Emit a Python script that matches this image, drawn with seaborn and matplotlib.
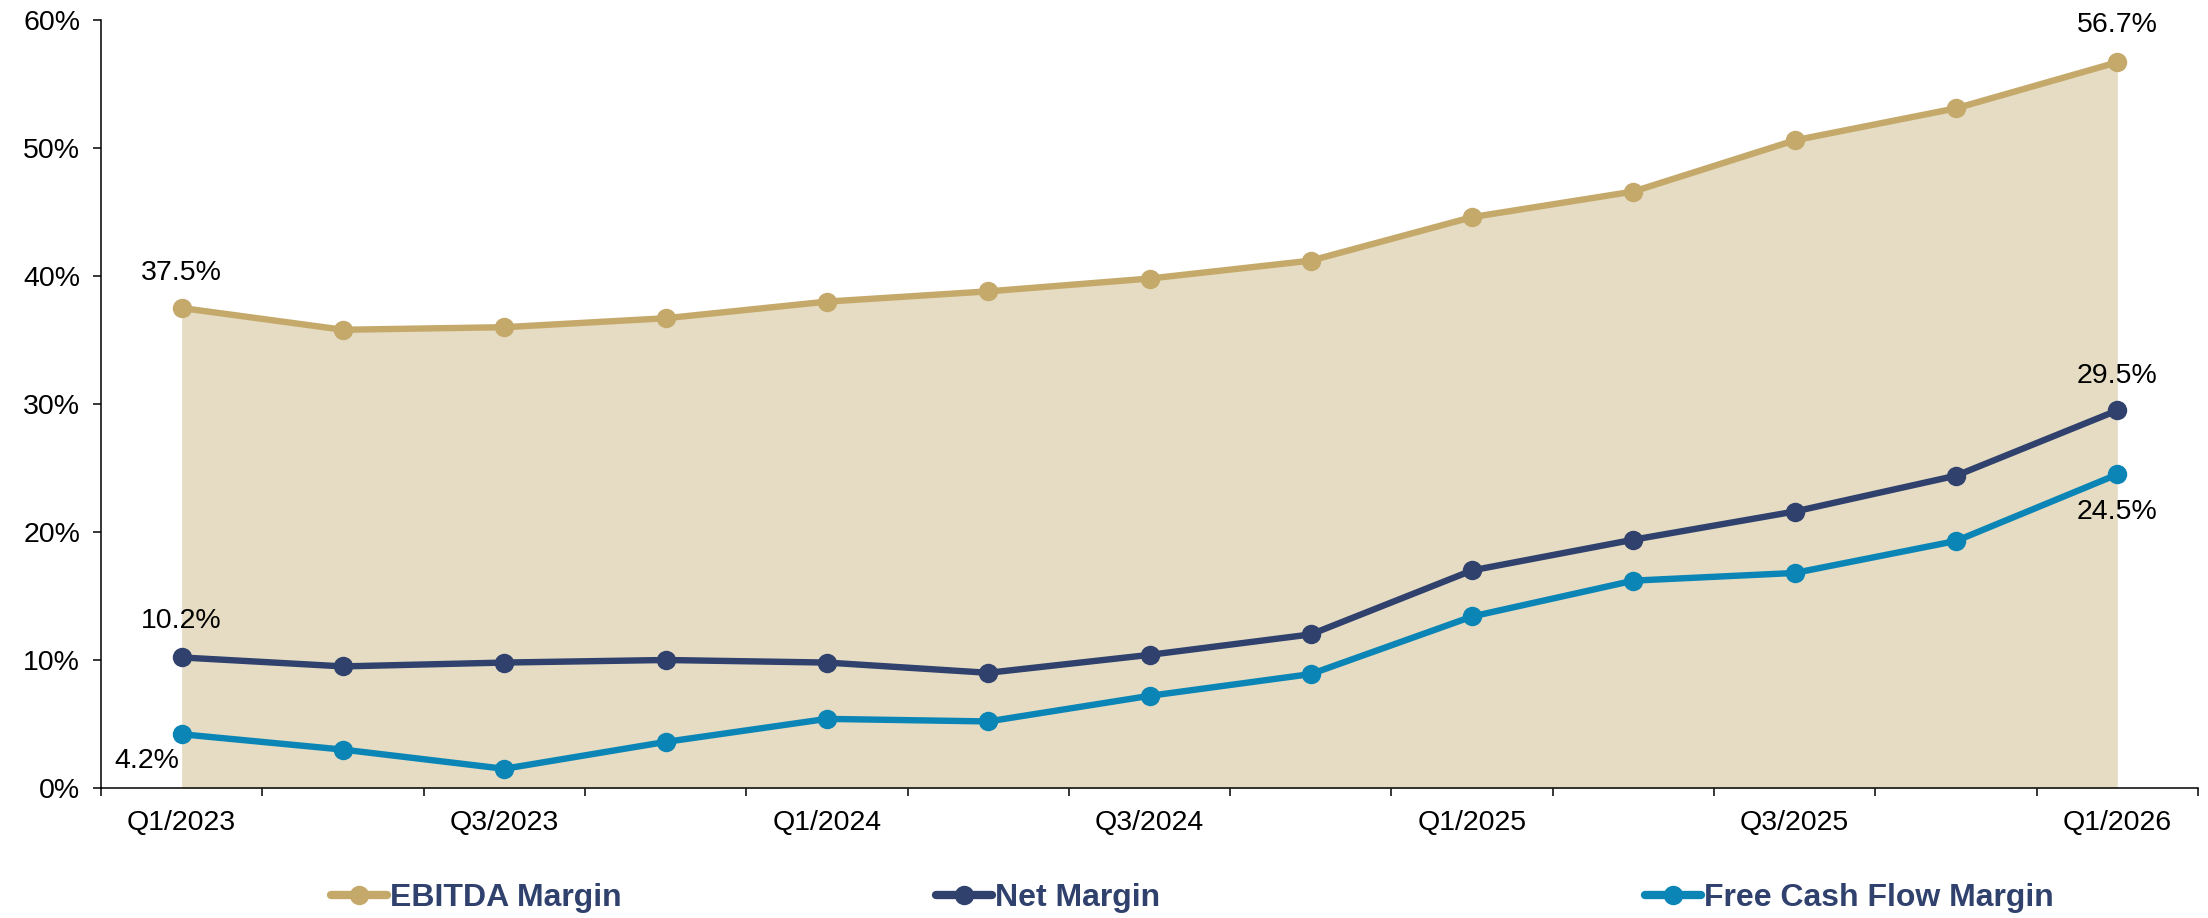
import matplotlib
matplotlib.use("Agg")
import matplotlib.pyplot as plt
from matplotlib.lines import Line2D
from matplotlib.ticker import FixedLocator, FuncFormatter
import numpy as np
import pandas as pd
import seaborn as sns

# Quarterly margins (%)
quarters = ["Q1/2023", "Q2/2023", "Q3/2023", "Q4/2023",
            "Q1/2024", "Q2/2024", "Q3/2024", "Q4/2024",
            "Q1/2025", "Q2/2025", "Q3/2025", "Q4/2025", "Q1/2026"]
ebitda_margin = [37.5, 35.8, 36.0, 36.7, 38.0, 38.8, 39.8, 41.2, 44.6, 46.6, 50.6, 53.1, 56.7]
net_margin = [10.2, 9.5, 9.8, 10.0, 9.8, 9.0, 10.4, 12.0, 17.0, 19.4, 21.6, 24.4, 29.5]
fcf_margin = [4.2, 3.0, 1.5, 3.6, 5.4, 5.2, 7.2, 8.9, 13.4, 16.2, 16.8, 19.3, 24.5]
series_names = ["EBITDA Margin", "Net Margin", "Free Cash Flow Margin"]
y_ticks = [0, 10, 20, 30, 40, 50, 60]

GOLD = "#C4A96B"
GOLD_FILL = "#E5DCC3"
NAVY = "#2F416C"
TEAL = "#0A85B6"
palette = {series_names[0]: GOLD, series_names[1]: NAVY, series_names[2]: TEAL}
TEXT_SIZE = 20.5

sns.set_theme(style="ticks")
plt.rcParams["font.family"] = ["Liberation Sans", "DejaVu Sans"]

df = pd.DataFrame({
    "quarter": quarters * 3,
    "margin": ebitda_margin + net_margin + fcf_margin,
    "series": [series_names[0]] * len(quarters)
              + [series_names[1]] * len(quarters)
              + [series_names[2]] * len(quarters),
})

fig = plt.figure(figsize=(22.08, 9.18), dpi=100)
ax = fig.add_axes([101 / 2208, 130 / 918, 2097 / 2208, 768 / 918])

x_pos = np.arange(len(quarters))
ax.fill_between(x_pos, ebitda_margin, 0, color=GOLD_FILL, linewidth=0, zorder=1)

sns.lineplot(data=df, x="quarter", y="margin", hue="series", palette=palette,
             hue_order=series_names, sort=False, marker="o", markersize=14,
             markeredgewidth=0, linewidth=4.6, ax=ax, zorder=3)
ax.get_legend().remove()

ax.set_xlim(-0.5, len(quarters) - 0.5)
ax.set_ylim(0, 60)
ax.set_xlabel("")
ax.set_ylabel("")
ax.grid(False)
for side in ("top", "right"):
    ax.spines[side].set_visible(False)
for side in ("left", "bottom"):
    ax.spines[side].set_color("black")
    ax.spines[side].set_linewidth(1.1)

ax.yaxis.set_major_locator(FixedLocator(y_ticks))
ax.yaxis.set_major_formatter(FuncFormatter(lambda v, _: f"{v:.0f}%"))
ax.tick_params(axis="y", direction="out", length=6, width=1.1, color="black",
               pad=9, labelsize=TEXT_SIZE, labelcolor="black")

label_pos = list(range(0, len(quarters), 2))
ax.set_xticks(label_pos)
ax.set_xticklabels([quarters[i] for i in label_pos])
ax.set_xticks(np.arange(-0.5, len(quarters)), minor=True)
ax.tick_params(axis="x", which="major", length=0, pad=16, labelsize=TEXT_SIZE,
               labelcolor="black")
ax.tick_params(axis="x", which="minor", direction="out", length=6, width=1.1,
               color="black")

# Value labels at the first and last quarter
last = len(quarters) - 1
labels = [
    (0, ebitda_margin[0], (0, 25), "center"),
    (last, ebitda_margin[last], (0, 27), "center"),
    (0, net_margin[0], (0, 26), "center"),
    (last, net_margin[last], (0, 25), "center"),
    (0, fcf_margin[0], (-2, -19), "right"),
    (last, fcf_margin[last], (0, -27), "center"),
]
for xi, val, off, ha in labels:
    ax.annotate(f"{val:.1f}%", xy=(xi, val), xytext=off, textcoords="offset points",
                ha=ha, va="center", fontsize=TEXT_SIZE, color="black", zorder=5)

# Legend entries placed individually along the bottom
legend_x = [331 / 2208, 936 / 2208, 1645 / 2208]
for name, lx in zip(series_names, legend_x):
    handle = Line2D([0], [0], color=palette[name], linewidth=6, marker="o",
                    markersize=14, markeredgewidth=0, solid_capstyle="round")
    leg = fig.legend([handle], [name], loc="center left",
                     bbox_to_anchor=(lx, 1 - 898 / 918), frameon=False,
                     handlelength=1.75, handletextpad=0.1, borderpad=0,
                     borderaxespad=0,
                     prop={"family": "Liberation Sans", "weight": "bold", "size": 23})
    for t in leg.get_texts():
        t.set_color(NAVY)

fig.savefig("out.png", dpi=100)
